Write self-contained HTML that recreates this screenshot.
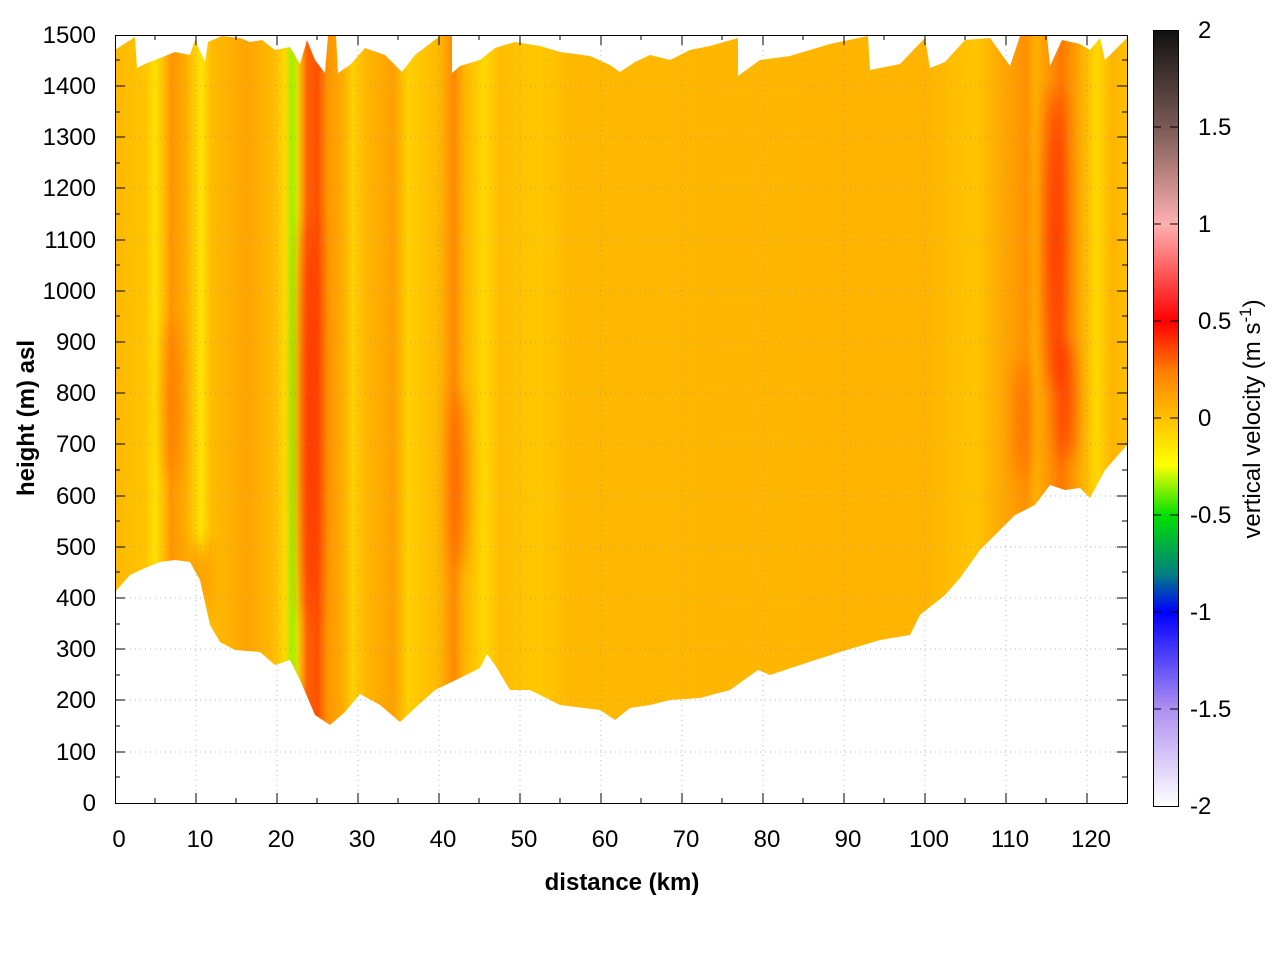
<!DOCTYPE html>
<html><head><style>body{margin:0;background:#fff}svg text{font-family:"Liberation Sans",sans-serif;font-size:24px}</style></head><body>
<svg width="1280" height="960" xmlns="http://www.w3.org/2000/svg">
<defs>
<linearGradient id="st" gradientUnits="userSpaceOnUse" x1="115" y1="0" x2="1127" y2="0">
<stop offset="0" stop-color="#ffb800"/>
<stop offset="0.03" stop-color="#ffc400"/>
<stop offset="0.04" stop-color="#ffe000"/>
<stop offset="0.05" stop-color="#ffb400"/>
<stop offset="0.055" stop-color="#ff9400"/>
<stop offset="0.07" stop-color="#ffac00"/>
<stop offset="0.085" stop-color="#ffe400"/>
<stop offset="0.095" stop-color="#ffbc00"/>
<stop offset="0.13" stop-color="#ffa400"/>
<stop offset="0.155" stop-color="#ffb800"/>
<stop offset="0.168" stop-color="#ffd800"/>
<stop offset="0.175" stop-color="#a0f000"/>
<stop offset="0.18" stop-color="#e0e000"/>
<stop offset="0.185" stop-color="#ffa000"/>
<stop offset="0.19" stop-color="#ff6000"/>
<stop offset="0.2" stop-color="#ff5000"/>
<stop offset="0.21" stop-color="#ff9400"/>
<stop offset="0.225" stop-color="#ffac00"/>
<stop offset="0.235" stop-color="#ffd000"/>
<stop offset="0.25" stop-color="#ffb400"/>
<stop offset="0.275" stop-color="#ffa000"/>
<stop offset="0.29" stop-color="#ffd000"/>
<stop offset="0.32" stop-color="#ffb800"/>
<stop offset="0.335" stop-color="#ff8800"/>
<stop offset="0.345" stop-color="#ffb400"/>
<stop offset="0.365" stop-color="#ffd800"/>
<stop offset="0.38" stop-color="#ffbc00"/>
<stop offset="0.42" stop-color="#ffc800"/>
<stop offset="0.45" stop-color="#ffb800"/>
<stop offset="0.8" stop-color="#ffb400"/>
<stop offset="0.85" stop-color="#ffc400"/>
<stop offset="0.885" stop-color="#ffa000"/>
<stop offset="0.9" stop-color="#ff9000"/>
<stop offset="0.91" stop-color="#ffb000"/>
<stop offset="0.925" stop-color="#ff9000"/>
<stop offset="0.935" stop-color="#ff7800"/>
<stop offset="0.95" stop-color="#ffa000"/>
<stop offset="0.97" stop-color="#ffd800"/>
<stop offset="0.985" stop-color="#ffb400"/>
<stop offset="1" stop-color="#ffc000"/>
</linearGradient>
<linearGradient id="cb" x1="0" y1="0" x2="0" y2="1">
<stop offset="0" stop-color="#111"/>
<stop offset="0.125" stop-color="#7a5a55"/>
<stop offset="0.25" stop-color="#ffb0b0"/>
<stop offset="0.375" stop-color="#ff0000"/>
<stop offset="0.44" stop-color="#ff8000"/>
<stop offset="0.5" stop-color="#ffc000"/>
<stop offset="0.56" stop-color="#ffff00"/>
<stop offset="0.625" stop-color="#00e000"/>
<stop offset="0.7" stop-color="#008080"/>
<stop offset="0.75" stop-color="#0000ff"/>
<stop offset="0.875" stop-color="#b090f0"/>
<stop offset="1" stop-color="#fff"/>
</linearGradient>
<filter id="bl"><feGaussianBlur stdDeviation="8"/></filter>
<clipPath id="cp"><path d="M115,50 L135,37 L137,68 L145,64 L160,58 L175,52 L190,55 L195,40 L205,62 L208,42 L222,36 L240,38 L250,42 L262,40 L275,50 L290,47 L300,64 L307,40 L315,60 L325,73 L328,35 L336,35 L338,73 L350,65 L365,48 L385,55 L402,72 L415,55 L440,36 L452,35 L452,73 L460,66 L480,60 L495,48 L515,42 L540,46 L560,52 L590,56 L610,65 L620,72 L635,62 L650,55 L670,60 L690,50 L710,46 L738,38 L738,76 L760,60 L790,56 L830,44 L868,36 L870,70 L900,64 L925,38 L930,68 L945,62 L965,40 L990,38 L1010,66 L1020,36 L1047,36 L1050,66 L1062,40 L1080,44 L1090,50 L1100,38 L1105,60 L1127,38 L1127,445 L1105,470 L1090,498 L1080,488 L1065,490 L1050,485 L1035,505 L1015,515 L1000,530 L980,550 L960,578 L945,595 L920,615 L910,635 L880,640 L840,652 L800,665 L770,675 L758,670 L730,690 L700,698 L670,700 L650,705 L630,708 L615,720 L600,710 L560,705 L530,690 L510,690 L495,665 L487,654 L480,668 L460,678 L435,690 L415,708 L400,722 L380,705 L360,694 L345,712 L330,725 L315,715 L300,680 L290,660 L275,665 L260,652 L235,650 L220,642 L210,625 L200,580 L190,562 L175,560 L160,562 L145,568 L130,575 L115,592 Z"/></clipPath>
</defs>
<g clip-path="url(#cp)">
<rect x="115" y="30" width="1012" height="710" fill="url(#st)"/>
<g filter="url(#bl)" opacity="0.85">
<ellipse cx="309" cy="420" rx="7" ry="200" fill="#ff2800"/>
<ellipse cx="1055" cy="240" rx="9" ry="150" fill="#ff2000"/>
<ellipse cx="1065" cy="400" rx="8" ry="60" fill="#ff3000"/>
<ellipse cx="458" cy="480" rx="6" ry="90" fill="#ff5000"/>
<ellipse cx="172" cy="400" rx="6" ry="80" fill="#ff7000"/>
<ellipse cx="200" cy="580" rx="6" ry="40" fill="#ff6000"/>
<ellipse cx="1022" cy="420" rx="6" ry="60" fill="#ff6000"/>
</g>
</g>
<g stroke="#999" stroke-width="1" stroke-dasharray="1,4" opacity="0.7">
<path d="M196,35V803M277,35V803M358,35V803M439,35V803M520,35V803M601,35V803M682,35V803M763,35V803M844,35V803M925,35V803M1006,35V803M1087,35V803"/>
<path d="M115,86H1127M115,137H1127M115,188H1127M115,240H1127M115,291H1127M115,342H1127M115,393H1127M115,444H1127M115,496H1127M115,547H1127M115,598H1127M115,649H1127M115,700H1127M115,752H1127"/>
</g>
<rect x="115.5" y="35.5" width="1012" height="768" fill="none" stroke="#000"/>
<g stroke="#000">
<path d="M115,86h10M115,137h10M115,188h10M115,240h10M115,291h10M115,342h10M115,393h10M115,444h10M115,496h10M115,547h10M115,598h10M115,649h10M115,700h10M115,752h10"/>
<path d="M1127,86h-10M1127,137h-10M1127,188h-10M1127,240h-10M1127,291h-10M1127,342h-10M1127,393h-10M1127,444h-10M1127,496h-10M1127,547h-10M1127,598h-10M1127,649h-10M1127,700h-10M1127,752h-10"/>
<path d="M115,60h5M115,112h5M115,163h5M115,214h5M115,265h5M115,316h5M115,368h5M115,419h5M115,470h5M115,521h5M115,572h5M115,624h5M115,675h5M115,726h5M115,777h5"/>
<path d="M1127,60h-5M1127,112h-5M1127,163h-5M1127,214h-5M1127,265h-5M1127,316h-5M1127,368h-5M1127,419h-5M1127,470h-5M1127,521h-5M1127,572h-5M1127,624h-5M1127,675h-5M1127,726h-5M1127,777h-5"/>
<path d="M196,803v-10M277,803v-10M358,803v-10M439,803v-10M520,803v-10M601,803v-10M682,803v-10M763,803v-10M844,803v-10M925,803v-10M1006,803v-10M1087,803v-10"/>
<path d="M196,35v10M277,35v10M358,35v10M439,35v10M520,35v10M601,35v10M682,35v10M763,35v10M844,35v10M925,35v10M1006,35v10M1087,35v10"/>
<path d="M155,803v-5M236,803v-5M317,803v-5M398,803v-5M479,803v-5M560,803v-5M641,803v-5M722,803v-5M803,803v-5M884,803v-5M965,803v-5M1046,803v-5"/>
<path d="M155,35v5M236,35v5M317,35v5M398,35v5M479,35v5M560,35v5M641,35v5M722,35v5M803,35v5M884,35v5M965,35v5M1046,35v5"/>
</g>
<g text-anchor="end">
<text x="96" y="43">1500</text><text x="96" y="94">1400</text><text x="96" y="145">1300</text><text x="96" y="196">1200</text><text x="96" y="248">1100</text><text x="96" y="299">1000</text><text x="96" y="350">900</text><text x="96" y="401">800</text><text x="96" y="452">700</text><text x="96" y="504">600</text><text x="96" y="555">500</text><text x="96" y="606">400</text><text x="96" y="657">300</text><text x="96" y="708">200</text><text x="96" y="760">100</text><text x="96" y="811">0</text>
</g>
<g text-anchor="middle">
<text x="119" y="847">0</text><text x="200" y="847">10</text><text x="281" y="847">20</text><text x="362" y="847">30</text><text x="443" y="847">40</text><text x="524" y="847">50</text><text x="605" y="847">60</text><text x="686" y="847">70</text><text x="767" y="847">80</text><text x="848" y="847">90</text><text x="929" y="847">100</text><text x="1010" y="847">110</text><text x="1091" y="847">120</text>
<text x="622" y="890" font-weight="bold" font-size="28">distance (km)</text>
<text transform="translate(34,418) rotate(-90)" font-weight="bold" font-size="28">height (m) asl</text>
<text transform="translate(1260,419) rotate(-90)" font-size="26">vertical velocity (m s<tspan font-size="17" dy="-9">-1</tspan><tspan dy="9">)</tspan></text>
</g>
<rect x="1153.5" y="30.5" width="25" height="776" fill="url(#cb)" stroke="#000"/>
<g stroke="#000"><path d="M1153,127h8M1153,224h8M1153,321h8M1153,418h8M1153,515h8M1153,612h8M1153,709h8M1178,127h-8M1178,224h-8M1178,321h-8M1178,418h-8M1178,515h-8M1178,612h-8M1178,709h-8"/></g>
<g>
<text x="1198" y="38">2</text><text x="1198" y="135">1.5</text><text x="1198" y="232">1</text><text x="1198" y="329">0.5</text><text x="1198" y="426">0</text><text x="1190" y="523">-0.5</text><text x="1190" y="620">-1</text><text x="1190" y="717">-1.5</text><text x="1190" y="814">-2</text>
</g>
</svg>
</body></html>
